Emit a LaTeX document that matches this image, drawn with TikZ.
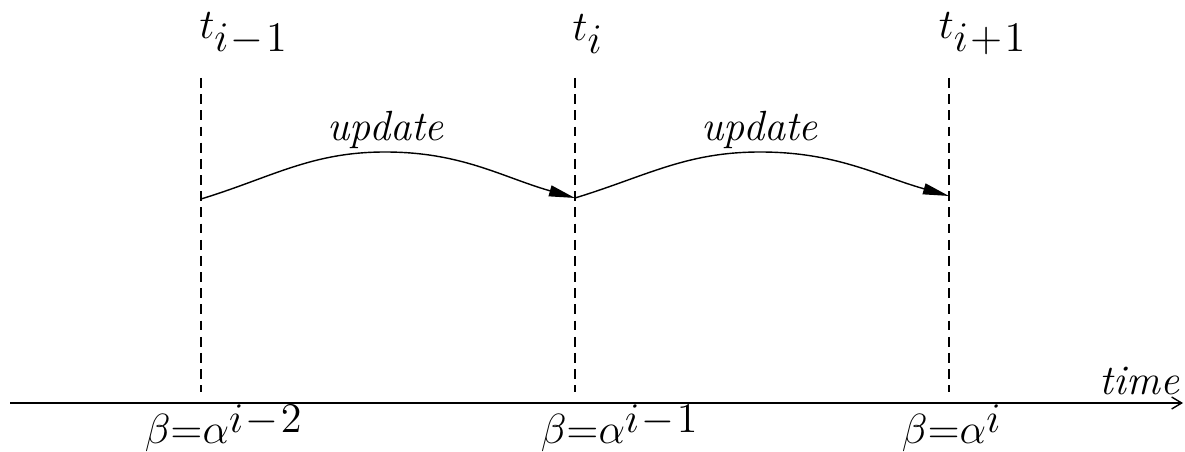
\documentclass[tikz,border=0pt]{standalone}
\usepackage{amsmath,amssymb}
\usetikzlibrary{arrows.meta,positioning}

\newcommand{\stepexp}[1]{^{\raisebox{-1.5pt}{$\textstyle #1$}}}

\begin{document}
\begin{tikzpicture}[x=0.01cm, y=-0.01cm, vline/.style={dash pattern=on 2.8pt off 1.8pt, thin}, upd/.style={-{Triangle[length=0.26cm,width=0.11cm]}, thin}, lbl/.style={inner sep=0pt, font=\large}, stepl/.style={inner sep=0pt, anchor=base, font=\fontsize{12}{14}\selectfont}]
\useasboundingbox (0,0) rectangle (1185,452);
% time axis
\coordinate (axl) at (10,403);
\coordinate (axr) at (1183,403);
\draw[-{Straight Barb[length=0.1cm,width=0.12cm]}, thin] (axl) -- (axr);
\node[lbl, anchor=south east] (time) at (1180,396) {\textit{time}};
% time instants
\node[lbl] (tprev) at (244,34) {$t_{\textstyle i\!-\!1}$};
\node[lbl] (tcur) at (588,34) {$t_{\textstyle i}$};
\node[lbl] (tnext) at (983,34) {$t_{\textstyle i\!+\!1}$};
\coordinate (a1) at (201,78); \coordinate (a2) at (201,392);
\coordinate (b1) at (575,78); \coordinate (b2) at (575,392);
\coordinate (c1) at (949,78); \coordinate (c2) at (949,392);
\draw[vline] (a1) -- (a2);
\draw[vline] (b1) -- (b2);
\draw[vline] (c1) -- (c2);
% updates
\coordinate (pa) at (201,199);
\coordinate (ka) at (385,152);
\coordinate (pb) at (575,198);
\coordinate (kb) at (760,152);
\coordinate (pc) at (949,196);
\draw[upd] (pa) to[out=17, in=180] (ka) to[out=0, in=164] (pb);
\draw[upd] (pb) to[out=17, in=180] (kb) to[out=0, in=164] (pc);
\node[lbl] (ua) at (386,130) {\textit{update}};
\node[lbl] (ub) at (760,130) {\textit{update}};
% step sizes
\node[stepl] (sa) at (224,443) {$\beta{=}\alpha\stepexp{i\!-\!2}$};
\node[stepl] (sb) at (620,443) {$\beta{=}\alpha\stepexp{i\!-\!1}$};
\node[stepl] (sc) at (952,443) {$\beta{=}\alpha\stepexp{i}$};
\end{tikzpicture}
\end{document}
